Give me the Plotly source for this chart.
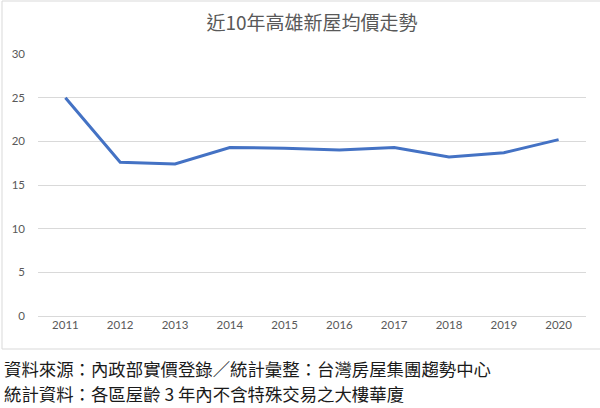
import plotly.graph_objects as go

years = ["2011", "2012", "2013", "2014", "2015", "2016", "2017", "2018", "2019", "2020"]
prices = [25.0, 17.6, 17.4, 19.3, 19.2, 19.0, 19.3, 18.2, 18.7, 20.2]
y_ticks = [0, 5, 10, 15, 20, 25, 30]

title_text = "近10年高雄新屋均價走勢"
source_line = "資料來源：內政部實價登錄／統計彙整：台灣房屋集團趨勢中心"
note_line = "統計資料：各區屋齡 3 年內不含特殊交易之大樓華廈"

W, H = 600, 408
L, R, T, B = 38, 14, 54, 92
pw, ph = W - L - R, H - T - B

def px_x(x):
    return (x - L) / pw

def px_y(y):
    return (H - B - y) / ph

cjk = "Noto Sans CJK TC, Noto Sans CJK SC, sans-serif"
num = "Lato, Open Sans, sans-serif"

fig = go.Figure()
fig.add_trace(go.Scatter(
    x=years, y=prices, mode="lines",
    line=dict(color="#4472C4", width=3),
    hoverinfo="skip", showlegend=False,
))

fig.update_layout(
    width=W, height=H,
    margin=dict(l=L, r=R, t=T, b=B),
    paper_bgcolor="white", plot_bgcolor="white",
    title=dict(text=title_text, x=0.5, xanchor="center", xref="paper",
               y=1 - 23 / H, yanchor="middle", yref="container",
               font=dict(family=cjk, size=19, color="#595959")),
    xaxis=dict(type="category", range=[-0.5, 9.5], showgrid=False,
               showline=False, ticks="", zeroline=False,
               tickfont=dict(family=num, size=11.5, color="#595959")),
    yaxis=dict(range=[0, 30], tickvals=y_ticks, showgrid=True,
               gridcolor="#d9d9d9", gridwidth=1, zeroline=True,
               zerolinecolor="#d9d9d9", zerolinewidth=1, showline=False,
               ticks="", ticklabelstandoff=12,
               tickfont=dict(family=num, size=11.5, color="#595959")),
    shapes=[dict(type="rect", xref="paper", yref="paper",
                 x0=px_x(2), x1=px_x(602), y0=px_y(349), y1=px_y(1),
                 line=dict(color="#d9d9d9", width=1), fillcolor="rgba(0,0,0,0)",
                 layer="below")],
    annotations=[
        dict(text=source_line, xref="paper", yref="paper", x=px_x(2), y=px_y(368),
             xanchor="left", yanchor="middle", showarrow=False,
             font=dict(family=cjk, size=17.4, color="#1a1a1a")),
        dict(text=note_line, xref="paper", yref="paper", x=px_x(2), y=px_y(393),
             xanchor="left", yanchor="middle", showarrow=False,
             font=dict(family=cjk, size=17.4, color="#1a1a1a")),
    ],
)

fig.write_html("out.html")
